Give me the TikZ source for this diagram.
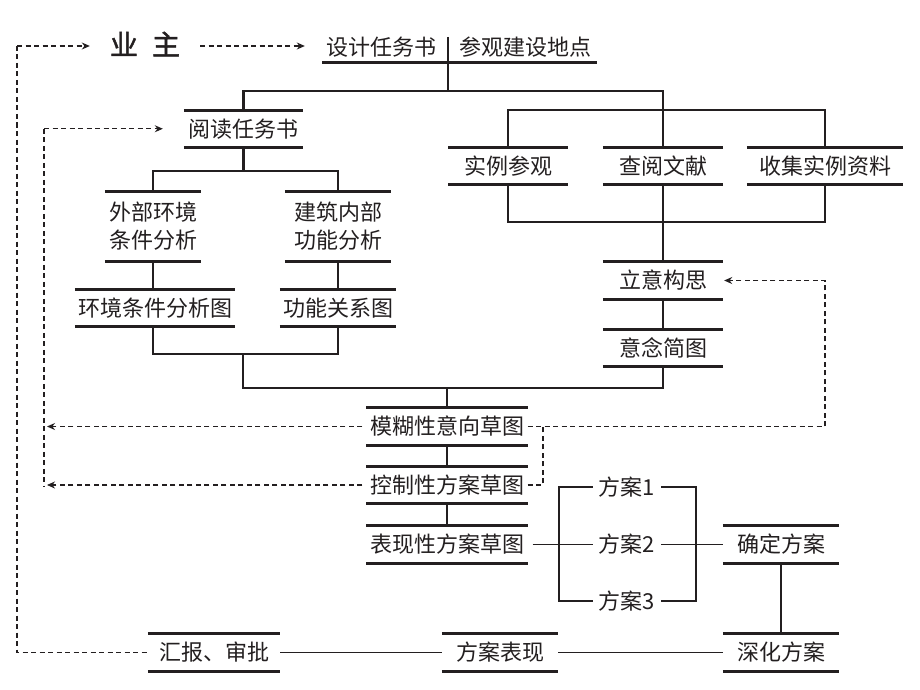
\documentclass[tikz,border=0pt]{standalone}
\usepackage{fontspec}
\newfontfamily\cjk{Noto Sans CJK SC}
\newfontfamily\cjkb[FakeBold=1.6]{Noto Sans CJK SC}
\usetikzlibrary{arrows.meta}
\definecolor{ink}{RGB}{35,31,32}
\begin{document}
\begin{tikzpicture}[x=1pt,y=-1pt,
  every node/.style={font=\cjk\fontsize{22}{28}\selectfont, text=ink, inner sep=0pt},
  box/.style={minimum width=#1, minimum height=37},
  bar/.style={line width=3pt, draw=ink},
  conn/.style={line width=2.5pt, draw=ink},
  thin/.style={line width=1.3pt, draw=ink},
  dsh/.style={line width=1.1pt, draw=ink, dash pattern=on 5pt off 3.5pt},
  tip/.style={-{Stealth[length=8pt,width=7pt]}}
]
\useasboundingbox[fill=white] (0,0) rectangle (920,690);

% nodes
\node[font=\cjkb\fontsize{28}{30}\selectfont, inner xsep=20pt, inner ysep=2pt] (yz) at (145,44) {业\hspace{14pt}主};
\node (sj) at (381,47.5) {设计任务书};
\node (cg) at (525,47.5) {参观建设地点};
\coordinate (ul1) at (322,63);
\coordinate (ul2) at (597,63);
\coordinate (sep) at (448,37);
\coordinate (j0) at (448,91);

\node[box=119] (yd) at (243.5,128.75) {阅读任务书};
\node[box=119] (sl) at (508,166) {实例参观};
\node[box=120] (cy) at (663,166) {查阅文献};
\node[box=156] (zl) at (825,166) {收集实例资料};
\node[box=96, minimum height=69, align=center] (wb) at (153,226.5) {外部环境\\条件分析};
\node[box=106, minimum height=69, align=center] (jz) at (338,226.5) {建筑内部\\功能分析};
\node[box=160] (hj) at (155,308) {环境条件分析图};
\node[box=116] (gn) at (338,308) {功能关系图};
\node[box=120] (ly) at (663,280.5) {立意构思};
\node[box=120] (yn) at (663,348) {意念简图};
\node[box=161] (mh) at (447,426.5) {模糊性意向草图};
\node[box=161] (kz) at (447,485) {控制性方案草图};
\node[box=161] (bx) at (447,544.5) {表现性方案草图};
\node[box=116] (qd) at (781,544.5) {确定方案};
\node[box=116] (sh) at (781,652.5) {深化方案};
\node[box=116] (fb) at (500,652.5) {方案表现};
\node[box=132] (hb) at (214,652.5) {汇报、审批};
\node[inner xsep=6pt, inner ysep=2pt] (f1) at (627,487) {方案1};
\node[inner xsep=6pt, inner ysep=2pt] (f2) at (627,544.5) {方案2};
\node[inner xsep=6pt, inner ysep=2pt] (f3) at (627,601) {方案3};

% bars above and below the boxes
\foreach \n in {yd,sl,cy,zl,wb,jz,hj,gn,ly,yn,mh,kz,bx,qd,sh,fb,hb}
  \draw[bar] (\n.north west) -- (\n.north east) (\n.south west) -- (\n.south east);
\draw[bar] (ul1) -- (ul2);

% thick connectors
\coordinate (j1) at (663,110);
\coordinate (j2) at (663,222);
\coordinate (j3) at (243.5,171);
\coordinate (j4) at (243,354);
\coordinate (j5) at (447,388);
\draw[conn] (sep) -- (j0);
\draw[conn] (yd.north) |- (j0) -| (j1);
\draw[conn] (sl.north) |- (j1) -| (zl.north);
\draw[conn] (j1) -- (cy.north);
\draw[conn] (sl.south) |- (j2) -| (zl.south);
\draw[conn] (cy.south) -- (ly.north);
\draw[conn] (ly.south) -- (yn.north);
\draw[conn] (yd.south) -- (j3);
\draw[conn] (wb.north) |- (j3) -| (jz.north);
\draw[conn] (wb.south) -- (wb.south |- hj.north);
\draw[conn] (jz.south) -- (jz.south |- gn.north);
\draw[conn] (wb.south |- hj.south) |- (j4) -| (gn.south);
\draw[conn] (j4) |- (j5) -| (yn.south);
\draw[conn] (j5) -- (mh.north);
\draw[conn] (mh.south) -- (kz.north);
\draw[conn] (kz.south) -- (bx.north);

% thin connectors
\coordinate (bl) at (559,544.5);
\coordinate (br) at (696,544.5);
\draw[thin, shorten <=5pt] (bx.east) -- (f2.west);
\draw[thin] (f1.west) -| (bl) |- (f3.west);
\draw[thin] (f1.east) -| (br) |- (f3.east);
\draw[thin] (f2.east) -- (qd.west);
\draw[thin] (qd.south) -- (sh.north);
\draw[thin] (sh.west) -- (fb.east);
\draw[thin] (fb.west) -- (hb.east);

% dashed feedback lines
\coordinate (d0) at (17,46);
\coordinate (d1) at (44,128.75);
\coordinate (d2) at (44,486);
\coordinate (d3) at (825,354);
\coordinate (d4) at (543,426.5);
\draw[dsh,tip] (d0) -- (d0 -| yz.west);
\draw[dsh,tip,shorten >=21pt] (yz.east |- d0) -- (d0 -| sj.west);
\draw[dsh] (d0) |- (hb.west);
\draw[dsh,tip,shorten >=21pt] (d1) -- (yd.west);
\draw[dsh] (d1) -- (d2);
\draw[dsh,tip,shorten <=4pt,shorten >=3pt] (mh.west) -- (mh.west -| d1);
\draw[dsh,tip,shorten <=4pt,shorten >=3pt] (kz.west) -- (kz.west -| d1);
\draw[dsh,tip,shorten >=1pt] (mh.east) -| (d3) |- (ly.east);
\draw[dsh] (kz.east) -| (d4);
\end{tikzpicture}
\end{document}
